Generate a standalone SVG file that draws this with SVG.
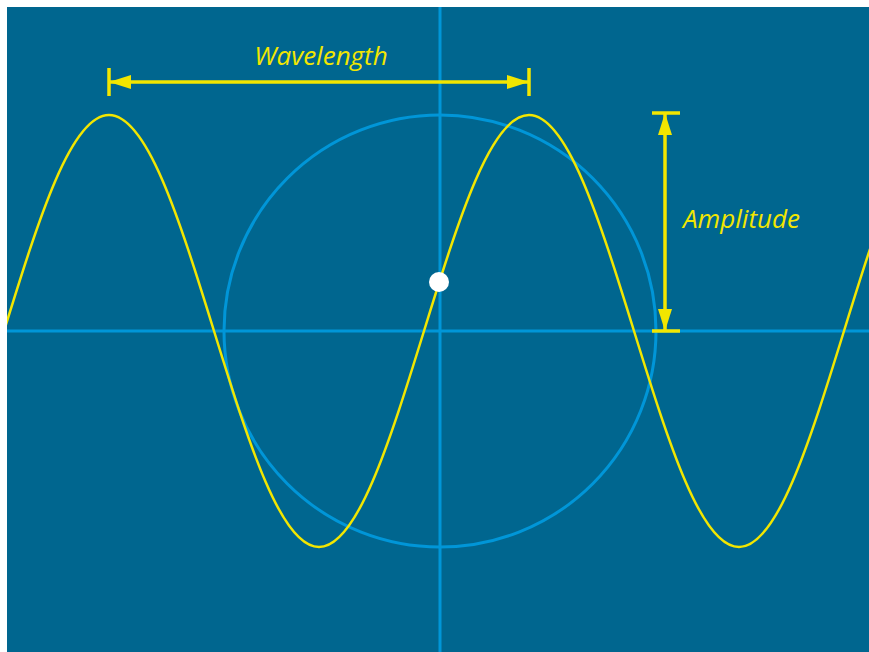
<svg xmlns="http://www.w3.org/2000/svg" width="869" height="652" viewBox="0 0 869 652">
<defs>
<style>
.axis{stroke:#0096d8;stroke-width:3;fill:none}
.wave{stroke:#f2e600;stroke-width:2.5;fill:none}
.dim{stroke:#f2e600;stroke-width:3.5;fill:none}
.lbl{fill:#f2e600;font-family:"Open Sans","Liberation Sans",sans-serif;font-style:italic;font-size:26px}
</style>
<clipPath id="bg"><rect x="7" y="7" width="862" height="645"/></clipPath>
<marker id="ah" viewBox="0 0 22 14" refX="22" refY="7" markerWidth="22" markerHeight="14" markerUnits="userSpaceOnUse" orient="auto-start-reverse">
<path d="M0,0 L22,7 L0,14 Z" fill="#f2e600"/>
</marker>
</defs>
<rect x="0" y="0" width="869" height="652" fill="#ffffff"/>
<rect x="7" y="7" width="862" height="645" fill="#00668f"/>
<g id="axes" clip-path="url(#bg)">
<line class="axis" x1="7" y1="331" x2="869" y2="331"/>
<line class="axis" x1="440" y1="7" x2="440" y2="652"/>
<circle class="axis" cx="440" cy="331" r="216"/>
</g>
<g id="wave" clip-path="url(#bg)">
<path class="wave" d="M4,331 C39.1,217.6 71.15,115 109,115 S178.9,217.6 214,331 S281.15,547 319,547 S388.9,444.4 424,331 S491.15,115 529,115 S598.9,217.6 634,331 S701.15,547 739,547 S808.9,444.4 844,331 S911.15,115 949,115"/>
</g>
<g id="connectors">
<line class="dim" x1="109" y1="82" x2="529" y2="82" marker-start="url(#ah)" marker-end="url(#ah)"/>
<line class="dim" x1="109" y1="68" x2="109" y2="96"/>
<line class="dim" x1="529" y1="68" x2="529" y2="96"/>
<line class="dim" x1="665" y1="113" x2="665" y2="331" marker-start="url(#ah)" marker-end="url(#ah)"/>
<line class="dim" x1="652" y1="113" x2="680" y2="113"/>
<line class="dim" x1="652" y1="331" x2="680" y2="331"/>
</g>
<g id="dot"><circle cx="439" cy="282" r="10" fill="#ffffff"/></g>
<g id="labels">
<text class="lbl" x="321" y="65" text-anchor="middle">Wavelength</text>
<text class="lbl" x="683" y="228">Amplitude</text>
</g>
</svg>
